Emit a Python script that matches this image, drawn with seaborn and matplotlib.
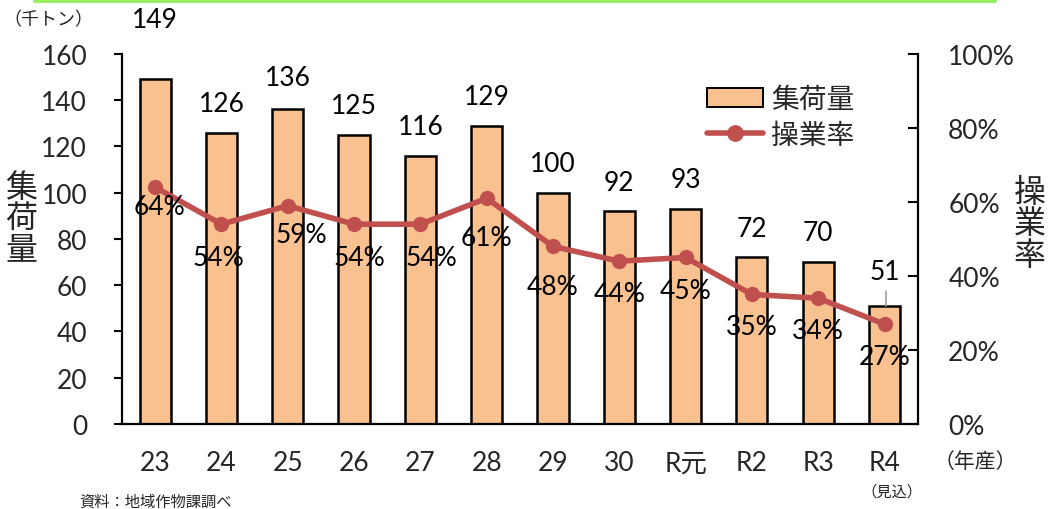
import numpy as np
import pandas as pd
import matplotlib
matplotlib.use("Agg")
import matplotlib.pyplot as plt
from matplotlib.patches import Patch
from matplotlib.lines import Line2D
import seaborn as sns

# Data
years = ["23", "24", "25", "26", "27", "28", "29", "30", "R元", "R2", "R3", "R4"]
volume = [149, 126, 136, 125, 116, 129, 100, 92, 93, 72, 70, 51]      # 千トン
rate = [64, 54, 59, 54, 54, 61, 48, 44, 45, 35, 34, 27]               # %

# Label offsets in points (dx, dy)
vol_off = [(0, 43), (0, 21), (0, 23), (0, 21), (0, 21), (0, 21),
           (0, 21), (0, 21), (0, 21), (0, 21), (0, 21), (0, 25)]
rate_off = [(3, -14), (-2, -24), (10, -21), (4, -24), (8, -24), (0, -28),
            (0, -29), (0, -23), (0, -24), (0, -23), (0, -23), (0, -23)]

sns.set_theme(style="white")
plt.rcParams["font.family"] = ["Lato", "Noto Sans CJK JP", "DejaVu Sans"]

BAR = "#F9C090"
LINE = "#C0504D"
FS = 19

df = pd.DataFrame({"year": years, "volume": volume, "rate": rate})

fig = plt.figure(figsize=(10.56, 5.10), dpi=100)
ax = fig.add_axes([0.1155, 0.1667, 0.7535, 0.7255])

sns.barplot(data=df, x="year", y="volume", order=years, color=BAR,
            edgecolor="black", linewidth=1.8, width=0.47, saturation=1, ax=ax)
ax.set_xlim(-0.5, len(years) - 0.5)
ax.set_ylim(0, 160)
ax.set_yticks(np.arange(0, 161, 20))
ax.set_xlabel("")
ax.set_ylabel("")
ax.tick_params(axis="y", direction="out", length=6, width=1.5, labelsize=FS,
               left=True, pad=19, color="black")
ax.tick_params(axis="x", length=0, labelsize=FS, pad=19)
for s in ["left", "bottom"]:
    ax.spines[s].set_color("black")
    ax.spines[s].set_linewidth(1.6)
ax.spines["top"].set_visible(False)
ax.spines["right"].set_visible(False)

for i, v in enumerate(volume):
    ax.annotate(str(v), (i, v), xytext=vol_off[i], textcoords="offset points",
                ha="center", va="center", fontsize=FS, color="black")
# leader line for the last label
ax.plot([len(years) - 1 + 0.02] * 2, [volume[-1], volume[-1] + 6.5],
        color="#A0A0A0", lw=1.2)

ax2 = ax.twinx()
sns.lineplot(x=np.arange(len(years)), y=rate, color=LINE, lw=4, marker="o",
             markersize=11, markeredgewidth=0, ax=ax2)
ax2.set_ylim(0, 100)
ax2.set_yticks(np.arange(0, 101, 20))
ax2.set_yticklabels([f"{t}%" for t in range(0, 101, 20)])
ax2.tick_params(axis="y", direction="in", length=7, width=1.5, labelsize=FS,
                right=True, pad=22, color="black")
ax2.spines["right"].set_color("black")
ax2.spines["right"].set_linewidth(1.6)
for s in ["top", "left", "bottom"]:
    ax2.spines[s].set_visible(False)
ax2.set_xlim(-0.5, len(years) - 0.5)

for i, r in enumerate(rate):
    ax2.annotate(f"{r}%", (i, r), xytext=rate_off[i], textcoords="offset points",
                 ha="center", va="center", fontsize=FS, color="black")

# Legend
handles = [Patch(facecolor=BAR, edgecolor="black", linewidth=1.4),
           Line2D([0], [0], color=LINE, lw=4, marker="o", markersize=11)]
fig.legend(handles, ["集荷量", "操業率"], loc="upper left",
           bbox_to_anchor=(0.646, 0.878), frameon=False, fontsize=20,
           handlelength=2.0, handletextpad=0.3, labelspacing=0.35)

# Axis titles and notes
fig.text(0.02, 0.57, "集\n荷\n量", fontsize=23, ha="center", va="center",
         linespacing=1.05)
fig.text(0.975, 0.56, "操\n業\n率", fontsize=23, ha="center", va="center",
         linespacing=1.05)
fig.text(0.003, 0.962, "（千トン）", fontsize=13, ha="left", va="center")
fig.text(0.924, 0.094, "（年産）", fontsize=15, ha="center", va="center")
fig.text(0.845, 0.034, "（見込）", fontsize=11, ha="center", va="center")
fig.text(0.075, 0.001, "資料：地域作物課調べ", fontsize=11, ha="left", va="bottom")

# top accent line
fig.add_artist(Line2D([0.033, 0.942], [0.997, 0.997], color="#99EE66", lw=3,
                      transform=fig.transFigure))

fig.savefig("out.png", dpi=100)
